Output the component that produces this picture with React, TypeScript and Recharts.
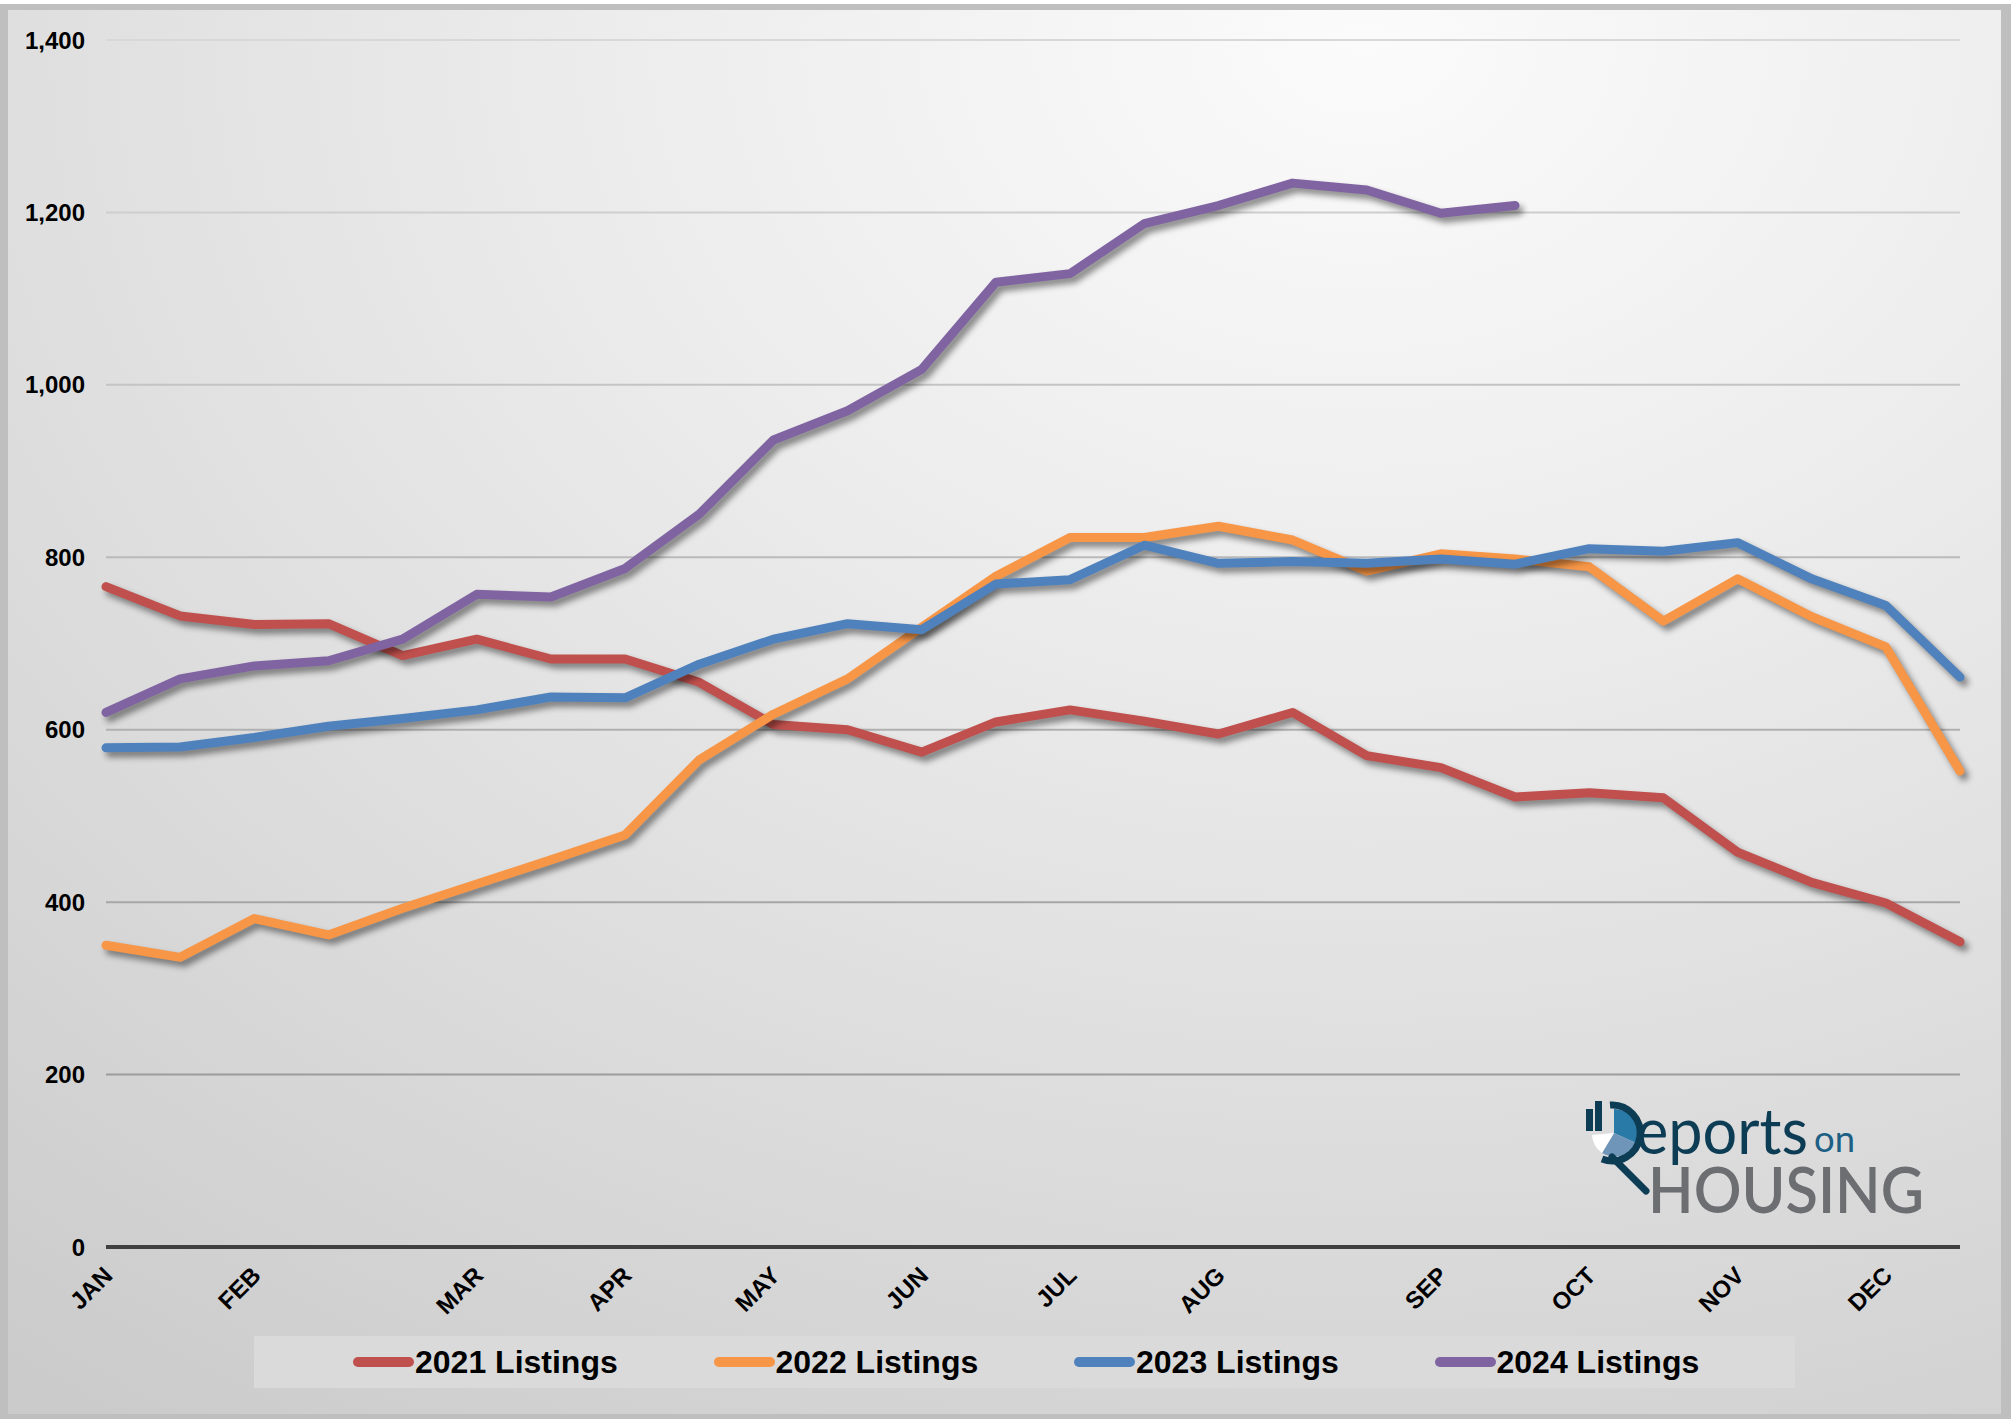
import { CartesianGrid, Legend, Line, LineChart, XAxis, YAxis } from "recharts";

// bi-weekly points, only some carry a month label
const months = [
  "JAN", "", "FEB", "", "", "MAR", "", "APR", "", "MAY", "", "JUN", "",
  "JUL", "", "AUG", "", "", "SEP", "", "OCT", "", "NOV", "", "DEC", "",
];

const listings2021 = [
  766, 732, 722, 723, 686, 705, 682, 682, 655, 606, 600, 574, 609,
  623, 610, 595, 620, 570, 556, 522, 527, 521, 458, 423, 399, 354,
];
const listings2022 = [
  350, 336, 381, 362, 393, 421, 449, 478, 565, 618, 659, 719, 778,
  823, 823, 836, 820, 784, 804, 798, 789, 726, 775, 731, 696, 552,
];
const listings2023 = [
  579, 580, 591, 604, 613, 623, 638, 637, 676, 705, 723, 716, 769,
  774, 814, 793, 795, 793, 798, 792, 810, 807, 817, 775, 744, 661,
];
const listings2024 = [
  620, 659, 674, 680, 705, 757, 754, 787, 850, 936, 970, 1018, 1119,
  1129, 1187, 1208, 1234, 1226, 1199, 1208,
];

const yTicks = [0, 200, 400, 600, 800, 1000, 1200, 1400];

const series = [
  { key: "y2021", name: "2021 Listings", color: "#C0504D" },
  { key: "y2022", name: "2022 Listings", color: "#F79646" },
  { key: "y2023", name: "2023 Listings", color: "#4F81BD" },
  { key: "y2024", name: "2024 Listings", color: "#8064A2" },
];

const data = months.map((m, i) => ({
  idx: i,
  y2021: listings2021[i] ?? null,
  y2022: listings2022[i] ?? null,
  y2023: listings2023[i] ?? null,
  y2024: listings2024[i] ?? null,
}));

const FONT = '"Liberation Sans", Arial, sans-serif';
const LOGO_FONT = "Lato, 'Open Sans', sans-serif";

function MonthTick(props: any) {
  const { x, y, payload } = props;
  const label = months[payload.value];
  if (!label) return null;
  const tx = x + 8;
  const ty = y + 28;
  return (
    <text
      x={tx}
      y={ty}
      transform={`rotate(-45 ${tx} ${ty})`}
      textAnchor="end"
      fontFamily={FONT}
      fontWeight="bold"
      fontSize={24}
      fill="#000"
    >
      {label}
    </text>
  );
}

function LegendContent() {
  return (
    <div
      style={{
        display: "flex",
        alignItems: "center",
        height: 52,
        background: "#dadada",
        paddingLeft: 99,
        boxSizing: "border-box",
      }}
    >
      {series.map((s) => (
        <div key={s.key} style={{ display: "flex", alignItems: "center", width: 362 }}>
          <span
            style={{
              display: "inline-block",
              width: 61,
              height: 10,
              borderRadius: 5,
              background: s.color,
            }}
          />
          <span style={{ fontFamily: FONT, fontWeight: "bold", fontSize: 32, color: "#000", marginLeft: 1 }}>
            {s.name}
          </span>
        </div>
      ))}
    </div>
  );
}

function Logo() {
  return (
    <svg width={420} height={180} style={{ position: "absolute", left: 1580, top: 1075 }}>
      <g transform="translate(0 20)">
        <rect x={6} y={14} width={7} height={22} fill="#0d3c55" />
        <rect x={15} y={6} width={7} height={30} fill="#0d3c55" />
        <path d="M34 38 L34 14 A24 24 0 0 1 56 48 Z" fill="#2a7aa8" />
        <path d="M34 38 L56 48 A24 24 0 0 1 22 58 Z" fill="#6f95b8" />
        <path d="M34 38 L22 58 A24 24 0 0 1 12 40 Z" fill="#ffffff" />
        <path d="M30 10 A28 28 0 1 1 22 64" fill="none" stroke="#0d3c55" strokeWidth={7} />
        <line x1={32} y1={62} x2={66} y2={96} stroke="#0d3c55" strokeWidth={7} strokeLinecap="round" />
        <text x={56} y={59} fontFamily={LOGO_FONT} fontSize={64} fill="#0d3c55" textLength={172} lengthAdjust="spacingAndGlyphs">
          eports
        </text>
        <text x={234} y={57} fontFamily={LOGO_FONT} fontSize={37} fill="#1d5f85" textLength={41} lengthAdjust="spacingAndGlyphs">
          on
        </text>
        <text
          x={68}
          y={118}
          fontFamily={LOGO_FONT}
          fontWeight={600}
          fontSize={64}
          fill="#6d6e71"
          textLength={276}
          lengthAdjust="spacingAndGlyphs"
        >
          HOUSING
        </text>
      </g>
    </svg>
  );
}

export default function App() {
  return (
    <div style={{ position: "relative", width: 2011, height: 1419, background: "#ffffff", overflow: "hidden" }}>
      <style>{`
        body { margin: 0; }
        .recharts-line-curve { filter: drop-shadow(4px 5px 3px rgba(0,0,0,0.45)); }
      `}</style>
      <div style={{ position: "absolute", left: 0, top: 4, width: 2011, height: 1415, background: "#bfbfbf" }} />
      <div
        style={{
          position: "absolute",
          left: 8,
          top: 10,
          width: 1993,
          height: 1404,
          background:
            "radial-gradient(ellipse 110% 120% at 68% 2%, #fbfbfb 0%, #ececec 35%, #dddddd 65%, #cbcbcb 100%)",
        }}
      />
      <div style={{ position: "absolute", left: 0, top: 0 }}>
        <LineChart width={2011} height={1419} data={data} margin={{ top: 40, right: 51, bottom: 30, left: 6 }}>
          <defs>
            <linearGradient id="gridShade" gradientUnits="userSpaceOnUse" x1="0" y1="40" x2="0" y2="1247">
              <stop offset="0" stopColor="#d8d8d8" />
              <stop offset="1" stopColor="#929292" />
            </linearGradient>
          </defs>
          <CartesianGrid vertical={false} stroke="url(#gridShade)" strokeWidth={2} />
          <XAxis
            dataKey="idx"
            type="category"
            interval={0}
            tick={<MonthTick />}
            tickLine={false}
            tickSize={0}
            height={90}
            axisLine={{ stroke: "#404040", strokeWidth: 4 }}
          />
          <YAxis
            domain={[0, 1400]}
            ticks={yTicks}
            width={100}
            axisLine={false}
            tickLine={false}
            tickSize={0}
            tickMargin={21}
            tickFormatter={(v: number) => v.toLocaleString("en-US")}
            tick={{ fontFamily: FONT, fontWeight: "bold", fontSize: 24, fill: "#000" }}
          />
          <Legend
            verticalAlign="bottom"
            wrapperStyle={{ left: 254, width: 1541, bottom: 31, height: 52 }}
            content={<LegendContent />}
          />
          {series.map((s) => (
            <Line
              key={s.key}
              type="linear"
              dataKey={s.key}
              name={s.name}
              stroke={s.color}
              strokeWidth={9}
              strokeLinejoin="round"
              strokeLinecap="round"
              dot={false}
              activeDot={false}
              isAnimationActive={false}
            />
          ))}
        </LineChart>
      </div>
      <Logo />
    </div>
  );
}
